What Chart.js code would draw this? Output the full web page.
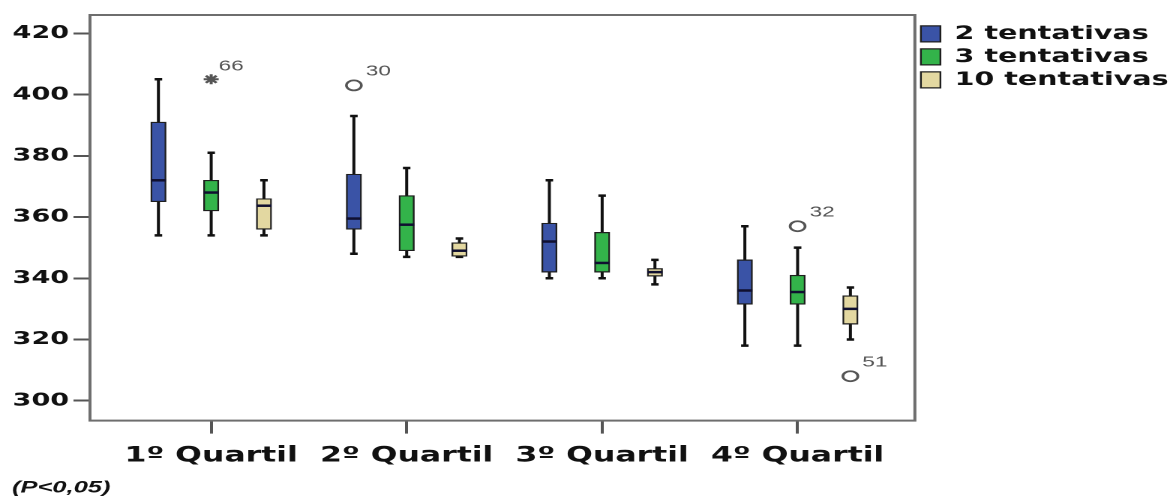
<!DOCTYPE html>
<html>
<head>
<meta charset="utf-8">
<script src="https://cdn.jsdelivr.net/npm/chart.js@4.4.1/dist/chart.umd.min.js"></script>
<style>
  html, body { margin: 0; padding: 0; background: #fff; overflow: hidden; }
  /* the original figure is stretched sideways, so the whole chart is too */
  #wrap { width: 780px; height: 498px; transform: scaleX(1.5); transform-origin: 0 0; }
</style>
</head>
<body>
<div id="wrap"><canvas id="boxChart"></canvas></div>
<script>
const categories = ["1º Quartil", "2º Quartil", "3º Quartil", "4º Quartil"];
const seriesNames = ["2 tentativas", "3 tentativas", "10 tentativas"];

// 2 tentativas
const t2Min = [354, 348, 340, 318];
const t2Q1 = [365, 356, 342, 331.5];
const t2Median = [372, 359.5, 352, 336];
const t2Q3 = [391, 374, 358, 346];
const t2Max = [405, 393, 372, 357];

// 3 tentativas
const t3Min = [354, 347, 340, 318];
const t3Q1 = [362, 349, 342, 331.5];
const t3Median = [368, 357.5, 345, 335.5];
const t3Q3 = [372, 367, 355, 341];
const t3Max = [381, 376, 367, 350];

// 10 tentativas
const t10Min = [354, 347, 338, 320];
const t10Q1 = [356, 347.2, 340.7, 325];
const t10Median = [363.7, 349, 342, 330];
const t10Q3 = [366, 351.6, 343.2, 334.3];
const t10Max = [372, 353, 346, 337];

// outliers: series index, category number, value, case label
const outSeries = [1, 0, 1, 2];
const outCategory = [1, 2, 4, 4];
const outValue = [405, 403, 357, 308];
const outLabel = ["66", "30", "32", "51"];
const outExtreme = [true, false, false, false];

const yTicks = [300, 320, 340, 360, 380, 400, 420];

const fills = ["#3a53a6", "#33b34a", "#e3d8a1"];
const groupOffset = [-0.27, 0, 0.27];

const stats = [
  { min: t2Min, q1: t2Q1, med: t2Median, q3: t2Q3, max: t2Max },
  { min: t3Min, q1: t3Q1, med: t3Median, q3: t3Q3, max: t3Max },
  { min: t10Min, q1: t10Q1, med: t10Median, q3: t10Q3, max: t10Max }
];

const boxDatasets = stats.map((s, si) => ({
  type: "bar",
  label: seriesNames[si],
  data: categories.map((c, ci) => ({ x: ci + 1 + groupOffset[si], y: [s.q1[ci], s.q3[ci]] })),
  backgroundColor: fills[si],
  borderColor: "#1e1e1e",
  borderWidth: 1.2,
  borderSkipped: false,
  barThickness: 10,
  grouped: false,
  order: 2
}));

const outlierDataset = {
  type: "scatter",
  label: "outliers",
  data: outValue.map((v, i) => ({ x: outCategory[i] + groupOffset[outSeries[i]], y: v })),
  pointStyle: outExtreme.map(e => e ? "star" : "circle"),
  pointRadius: 5,
  pointBackgroundColor: "#fff",
  pointBorderColor: "#555",
  pointBorderWidth: outExtreme.map(e => e ? 2 : 1.8),
  order: 1
};

const boxPlot = {
  id: "boxPlot",
  beforeDatasetsDraw(chart) {
    const { ctx, scales: { x, y } } = chart;
    ctx.save();
    ctx.strokeStyle = "#111";
    stats.forEach((s, si) => {
      categories.forEach((c, ci) => {
        const px = x.getPixelForValue(ci + 1 + groupOffset[si]);
        const top = y.getPixelForValue(s.max[ci]);
        const bot = y.getPixelForValue(s.min[ci]);
        ctx.lineWidth = 2;
        ctx.beginPath();
        ctx.moveTo(px, top);
        ctx.lineTo(px, bot);
        ctx.stroke();
        ctx.lineWidth = 2.5;
        ctx.beginPath();
        ctx.moveTo(px - 2.5, top); ctx.lineTo(px + 2.5, top);
        ctx.moveTo(px - 2.5, bot); ctx.lineTo(px + 2.5, bot);
        ctx.stroke();
      });
    });
    ctx.restore();
  },
  afterDatasetsDraw(chart) {
    const { ctx, chartArea, scales: { x, y } } = chart;
    ctx.save();
    // medians
    ctx.strokeStyle = "#101030";
    ctx.lineWidth = 2.5;
    stats.forEach((s, si) => {
      categories.forEach((c, ci) => {
        const px = x.getPixelForValue(ci + 1 + groupOffset[si]);
        const py = y.getPixelForValue(s.med[ci]);
        ctx.beginPath();
        ctx.moveTo(px - 5, py);
        ctx.lineTo(px + 5, py);
        ctx.stroke();
      });
    });
    // case numbers next to outliers
    ctx.fillStyle = "#555";
    ctx.font = '15px "Liberation Sans"';
    ctx.textBaseline = "middle";
    outValue.forEach((v, i) => {
      const px = x.getPixelForValue(outCategory[i] + groupOffset[outSeries[i]]);
      const py = y.getPixelForValue(v);
      ctx.fillText(outLabel[i], px + (outExtreme[i] ? 5 : 8), py - (outExtreme[i] ? 13 : 14));
    });
    // frame
    ctx.strokeStyle = "#6e6e6e";
    ctx.lineWidth = 2;
    ctx.strokeRect(chartArea.left, chartArea.top, chartArea.right - chartArea.left, chartArea.bottom - chartArea.top);
    ctx.restore();
  }
};

Chart.defaults.font.family = '"DejaVu Sans", sans-serif';
Chart.defaults.color = "#111";

new Chart(document.getElementById("boxChart"), {
  type: "bar",
  data: { datasets: [...boxDatasets, outlierDataset] },
  options: {
    responsive: true,
    maintainAspectRatio: false,
    animation: false,
    devicePixelRatio: 2,
    layout: { padding: { left: 8, top: 15, right: -9, bottom: 0 } },
    plugins: {
      legend: {
        position: "right",
        align: "start",
        title: { display: true, text: " ", font: { size: 4.5 }, padding: 0 },
        labels: {
          filter: item => item.datasetIndex < 3,
          font: { size: 19, weight: "bold" },
          color: "#111",
          boxWidth: 13,
          boxHeight: 16,
          padding: 4
        }
      },
      title: {
        display: true,
        text: "(P<0,05)",
        position: "bottom",
        align: "start",
        color: "#111",
        font: { family: '"Liberation Sans"', size: 17, weight: "bold", style: "italic" },
        padding: { top: 9, bottom: 0 }
      },
      tooltip: { enabled: false }
    },
    scales: {
      x: {
        type: "linear",
        min: 0.38,
        max: 4.6,
        offset: false,
        afterFit(scale) { scale.height = 48; },
        border: { display: false },
        grid: { offset: false, drawOnChartArea: false, drawTicks: true, tickLength: 13, tickColor: "#555", tickWidth: 2 },
        ticks: {
          stepSize: 1,
          includeBounds: false,
          autoSkip: false,
          maxRotation: 0,
          padding: 10,
          font: { size: 21, weight: "bold" },
          callback: v => categories[v - 1]
        }
      },
      y: {
        min: 293.5,
        max: 426,
        afterFit(scale) { scale.width = 52; },
        afterBuildTicks(scale) { scale.ticks = yTicks.map(v => ({ value: v })); },
        border: { display: false },
        grid: { drawOnChartArea: false, drawTicks: true, tickLength: 11, tickColor: "#555", tickWidth: 2 },
        ticks: {
          padding: 3,
          font: { size: 18, weight: "bold" }
        }
      }
    }
  },
  plugins: [boxPlot]
});
</script>
</body>
</html>
